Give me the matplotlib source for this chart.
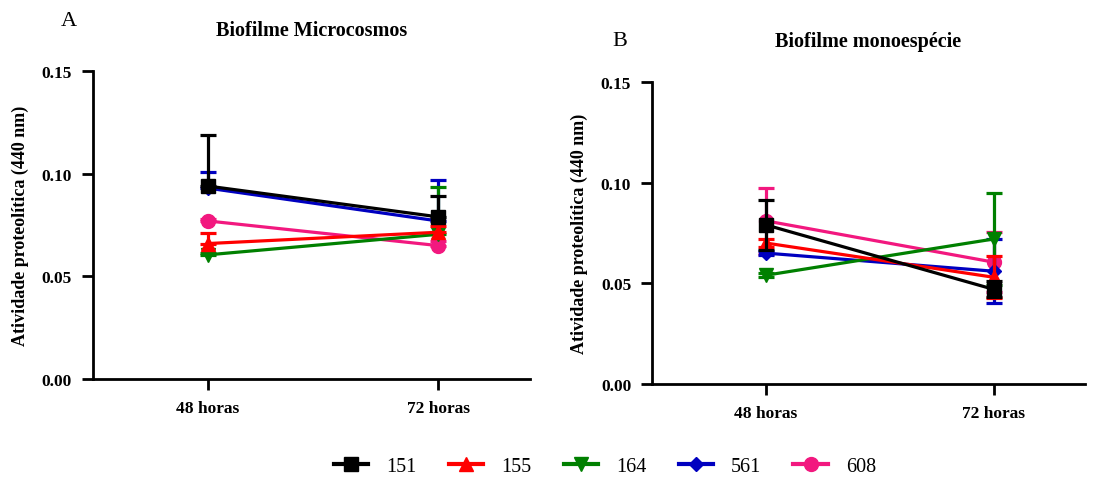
import numpy as np
import matplotlib
matplotlib.use("Agg")
import matplotlib.pyplot as plt
from matplotlib.lines import Line2D

plt.rcParams['font.family'] = ['Liberation Serif', 'DejaVu Serif']

# categories and series
times = ["48 horas", "72 horas"]
strains = ["151", "155", "164", "561", "608"]
colors = ["#000000", "#ff0000", "#008000", "#0000c0", "#f2187f"]
markers = ["s", "^", "v", "D", "o"]
msizes = [10, 10, 10, 7, 10]

# panel A: Biofilme Microcosmos (mean, upper error only)
mean_a = [[0.094, 0.079], [0.066, 0.0715], [0.0605, 0.0705], [0.093, 0.077], [0.077, 0.065]]
err_a = [[0.025, 0.010], [0.005, 0.003], [0.001, 0.023], [0.008, 0.020], [0.001, 0.002]]

# panel B: Biofilme monoespécie (mean, symmetric error)
mean_b = [[0.079, 0.047], [0.070, 0.053], [0.054, 0.072], [0.065, 0.056], [0.081, 0.0605]]
err_b = [[0.0125, 0.004], [0.002, 0.0105], [0.001, 0.023], [0.001, 0.016], [0.0165, 0.015]]

fig = plt.figure(figsize=(11.04, 4.81), dpi=100)
ax_a = fig.add_axes([0.0842, 0.21, 0.396, 0.640])
ax_b = fig.add_axes([0.5906, 0.1996, 0.392, 0.628])

x = np.arange(len(times))


def draw(ax, means, errs, both, title):
    for i in reversed(range(len(strains))):
        e = np.array(errs[i])
        low = e if both else np.zeros_like(e)
        ax.errorbar(x, means[i], yerr=[low, e], color=colors[i], marker=markers[i],
                    markersize=msizes[i], lw=2.3, elinewidth=2.3, capsize=6, capthick=2.3,
                    zorder=3 + (len(strains) - i))
    ax.set_xlim(-0.5, 1.4)
    ax.set_ylim(0, 0.15)
    ax.set_yticks([0, 0.05, 0.10, 0.15])
    ax.set_yticklabels(["0.00", "0.05", "0.10", "0.15"])
    ax.set_xticks(x)
    ax.set_xticklabels(times)
    for s in ["top", "right"]:
        ax.spines[s].set_visible(False)
    for s in ["left", "bottom"]:
        ax.spines[s].set_linewidth(2)
    ax.tick_params(direction="out", length=8, width=2, labelsize=12.5, pad=7)
    for t in ax.get_xticklabels() + ax.get_yticklabels():
        t.set_fontweight("bold")
    ax.set_ylabel("Atividade proteolítica (440 nm)", fontsize=13, fontweight="bold", labelpad=9)
    ax.set_title(title, fontsize=14.5, fontweight="bold", pad=26)


draw(ax_a, mean_a, err_a, False, "Biofilme Microcosmos")
draw(ax_b, mean_b, err_b, True, "Biofilme monoespécie")

fig.text(0.055, 0.945, "A", fontsize=16)
fig.text(0.555, 0.905, "B", fontsize=16)

handles = [Line2D([], [], color=c, marker=m, markersize=ms, lw=3)
           for c, m, ms in zip(colors, markers, msizes)]
fig.legend(handles, strains, loc="lower center", ncol=5, frameon=False, fontsize=14.5,
           bbox_to_anchor=(0.548, -0.03), handlelength=1.7, columnspacing=1.6, handletextpad=0.9)

fig.savefig("out.png", dpi=100)
